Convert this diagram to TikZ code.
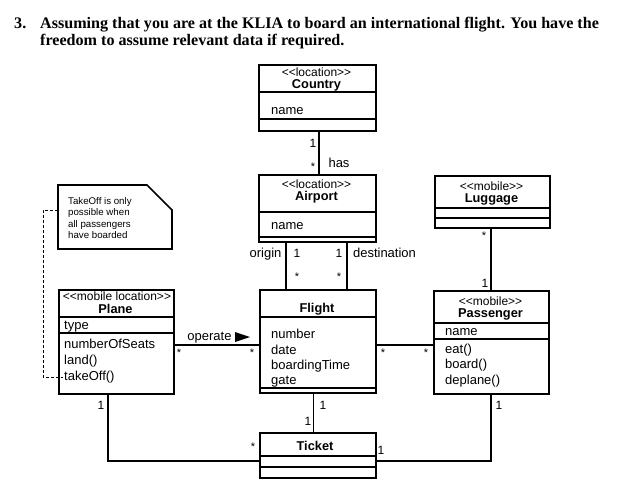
\documentclass[tikz,border=0pt]{standalone}
\usepackage{fontspec}
\setmainfont{Liberation Serif}
\newfontfamily\dsf{Liberation Sans}
\usetikzlibrary{calc}
\newcommand{\stereo}[1]{\symbol{60}\symbol{60}#1\symbol{62}\symbol{62}}
\newcommand{\clsline}[2]{\draw[sepline] ($(#1.north west)+(0,#2)$) -- ($(#1.north east)+(0,#2)$);}
\begin{document}
\begin{tikzpicture}[x=1pt,y=-1pt,
  cls/.style={draw, line width=1.7pt, rectangle, inner sep=0pt, anchor=north west},
  sepline/.style={line width=1.1pt},
  conn/.style={line width=1.1pt},
  attr/.style={font=\dsf\fontsize{13}{15}\selectfont, inner sep=0pt, anchor=base west},
  ster/.style={font=\dsf\fontsize{12}{13}\selectfont, inner sep=0pt, anchor=base},
  cname/.style={font=\dsf\bfseries\fontsize{12.8}{14}\selectfont, inner sep=0pt, anchor=base},
  lbl/.style={font=\dsf\fontsize{13}{15}\selectfont, inner sep=0pt, anchor=base},
  mult/.style={font=\dsf\fontsize{12}{14}\selectfont, inner sep=0pt, anchor=base},
  star/.style={font=\dsf\fontsize{11}{12}\selectfont, inner sep=0pt, anchor=center},
  notetxt/.style={font=\dsf\fontsize{9.7}{11}\selectfont, inner sep=0pt, anchor=base west},
  title/.style={font=\bfseries\fontsize{16.1}{19}\selectfont, inner sep=0pt, anchor=base west}]
\useasboundingbox (0,0) rectangle (634,496);
\fill[white] (0,0) rectangle (634,496);

% title
\node[title] (tnum) at (14,28) {3.};
\node[title] (t1) at (40,28) {Assuming that you are at the KLIA to board an international flight. You have the};
\node[title] (t2) at (40,45) {freedom to assume relevant data if required.};

% Country
\node[cls, minimum width=117pt, minimum height=66pt] (country) at (258,64) {};
\clsline{country}{28}
\clsline{country}{55}
\node[ster] (countryS) at (316.5,76.5) {\stereo{location}};
\node[cname] (countryN) at (316.5,88.5) {Country};
\node[attr] (countryA) at (271,114) {name};

% Airport
\node[cls, minimum width=117pt, minimum height=67pt] (airport) at (258,174) {};
\clsline{airport}{38}
\clsline{airport}{63}
\node[ster] (airportS) at (316.5,188.5) {\stereo{location}};
\node[cname] (airportN) at (316.5,200.5) {Airport};
\node[attr] (airportA) at (271,229) {name};

% Luggage
\node[cls, minimum width=115pt, minimum height=52pt] (luggage) at (434,175) {};
\clsline{luggage}{33}
\clsline{luggage}{43}
\node[ster] (luggageS) at (491.5,190.5) {\stereo{mobile}};
\node[cname] (luggageN) at (491.5,202.5) {Luggage};

% Plane
\node[cls, minimum width=115pt, minimum height=104pt] (plane) at (58,289) {};
\clsline{plane}{28}
\clsline{plane}{44}
\node[ster] (planeS) at (117,300) {\stereo{mobile location}};
\node[cname] (planeN) at (115.5,313) {Plane};
\node[attr] (planeA1) at (64,329) {type};
\node[attr] (planeA2) at (64,348) {numberOfSeats};
\node[attr] (planeA3) at (64,364) {land()};
\node[attr] (planeA4) at (64,380) {takeOff()};

% Flight
\node[cls, minimum width=116pt, minimum height=103pt] (flight) at (259,289) {};
\clsline{flight}{28}
\clsline{flight}{99}
\node[cname] (flightN) at (317,312) {Flight};
\node[attr] (flightA1) at (271,338) {number};
\node[attr] (flightA2) at (271,354) {date};
\node[attr] (flightA3) at (271,369) {boardingTime};
\node[attr] (flightA4) at (271,384) {gate};

% Passenger
\node[cls, minimum width=115pt, minimum height=103pt] (passenger) at (433,290) {};
\clsline{passenger}{33}
\clsline{passenger}{49}
\node[ster] (passengerS) at (490.5,305.5) {\stereo{mobile}};
\node[cname] (passengerN) at (490.5,317.5) {Passenger};
\node[attr] (passengerA1) at (445,335) {name};
\node[attr] (passengerA2) at (445,353) {eat()};
\node[attr] (passengerA3) at (445,368) {board()};
\node[attr] (passengerA4) at (445,384) {deplane()};

% Ticket
\node[cls, minimum width=116pt, minimum height=45pt] (ticket) at (259,432) {};
\clsline{ticket}{24}
\clsline{ticket}{35}
\node[cname] (ticketN) at (315,450) {Ticket};

% Note
\draw[line width=1.7pt] (58,185) -- (147,185) -- (172,210) -- (172,249) -- (58,249) -- cycle;
\coordinate (noteL) at (58,210);
\node[notetxt] (n1) at (68,204) {TakeOff is only};
\node[notetxt] (n2) at (68,215.5) {possible when};
\node[notetxt] (n3) at (68,227) {all passengers};
\node[notetxt] (n4) at (68,238.5) {have boarded};
\coordinate (dk1) at (43,210);
\coordinate (dk2) at (43,377);
\coordinate (dkE) at (63,377);
\draw[line width=1pt, dash pattern=on 3pt off 2pt] (noteL) -- (dk1) -- (dk2) -- (dkE);

% connector reference coordinates
\coordinate (xca) at (319,0);
\coordinate (xor) at (286,0);
\coordinate (xde) at (347,0);
\coordinate (yop) at (0,345);
\coordinate (xlp) at (491,0);
\coordinate (xft) at (313.5,0);
\coordinate (pt) at (108,461);
\coordinate (tp) at (491,461);

% Country - Airport
\draw[conn] (country.south -| xca) -- (airport.north -| xca);
\node[mult] (m1) at (313,147) {1};
\node[star] (s1) at (313,167) {*};
\node[lbl] (has) at (339,167) {has};

% Airport - Flight
\draw[conn] (airport.south -| xor) -- (flight.north -| xor);
\draw[conn] (airport.south -| xde) -- (flight.north -| xde);
\node[lbl] (origin) at (265.5,257) {origin};
\node[mult] (m2) at (297,257) {1};
\node[mult] (m3) at (339,257) {1};
\node[lbl] (dest) at (384.5,257) {destination};
\node[star] (s2) at (297,277) {*};
\node[star] (s3) at (339,277) {*};

% Luggage - Passenger
\draw[conn] (luggage.south -| xlp) -- (passenger.north -| xlp);
\node[star] (s4) at (484,236) {*};
\node[mult] (m4) at (485,287) {1};

% Plane - Flight (operate)
\draw[conn] (plane.east |- yop) -- (flight.west |- yop);
\node[lbl] (operate) at (209.5,340) {operate};
\fill (235,332) -- (250,337) -- (235,342) -- cycle;
\node[star] (s5) at (179,353) {*};
\node[star] (s6) at (252,353) {*};

% Flight - Passenger
\draw[conn] (flight.east |- yop) -- (passenger.west |- yop);
\node[star] (s7) at (383,353) {*};
\node[star] (s8) at (426,353) {*};

% Flight - Ticket
\draw[conn] (flight.south -| xft) -- (ticket.north -| xft);
\node[mult] (m5) at (323,409) {1};
\node[mult] (m6) at (308,425) {1};

% Plane - Ticket
\draw[conn] (plane.south -| pt) -- (pt) -- (ticket.west |- pt);
\node[mult] (m7) at (101,409) {1};
\node[star] (s9) at (253,447) {*};

% Ticket - Passenger
\draw[conn] (ticket.east |- tp) -- (tp) -- (passenger.south -| tp);
\node[mult] (m8) at (381,454) {1};
\node[mult] (m9) at (499,409) {1};
\end{tikzpicture}
\end{document}
